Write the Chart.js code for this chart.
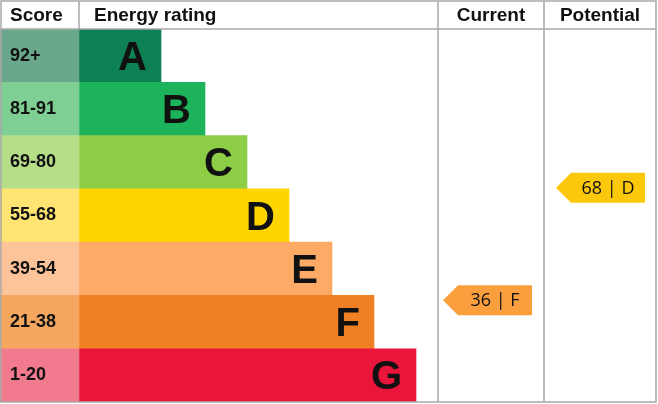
<!DOCTYPE html>
<html>
<head>
<meta charset="utf-8">
<script src="https://cdn.jsdelivr.net/npm/chart.js@4"></script>
<style>
  html, body { margin: 0; padding: 0; background: #fff; }
  #wrap { width: 658px; height: 404px; }
</style>
</head>
<body>
<div id="wrap"><canvas id="epc"></canvas></div>
<script>
// bands, top to bottom
const bands = ["A", "B", "C", "D", "E", "F", "G"];
const scoreRanges = ["92+", "81-91", "69-80", "55-68", "39-54", "21-38", "1-20"];
const bandMins = [92, 81, 69, 55, 39, 21, 1];
const bandMaxes = [100, 91, 80, 68, 54, 38, 20];
const barLengths = [82, 126, 168, 210, 253, 295, 337];   // rating bar width past score column
const scoreColWidth = [79, 79, 79, 79, 79, 79, 79];
const barColors = ["#0d8154", "#1db35b", "#8dce46", "#ffd500", "#fcaa65", "#ef8023", "#e9153b"];
const scoreColors = ["#6aa88b", "#7fcf95", "#b6de88", "#ffe473", "#fdc49a", "#f5a760", "#f27a8e"];
const arrowColors = ["#0d8154", "#1db35b", "#8dce46", "#fcc80c", "#fcaa65", "#fb9e3e", "#e9153b"];
const currentScore = 36;
const potentialScore = 68;

function bandIndex(score) {
  return bandMins.findIndex(m => score >= m);
}

const grid = "#a9a9a9";

const epcPlugin = {
  id: "epc",
  afterDatasetsDraw(chart) {
    const ctx = chart.ctx;
    const y = chart.scales.y;
    const x = chart.scales.x;
    const top = chart.chartArea.top;
    const bottom = chart.chartArea.bottom;
    const rowH = (bottom - top) / bands.length;
    const cur = [438, 544];
    const pot = [544, 656];

    ctx.save();
    ctx.textBaseline = "middle";
    bands.forEach((b, i) => {
      const yc = y.getPixelForValue(i);
      ctx.fillStyle = "#111";
      ctx.font = "bold 40px 'Liberation Sans', Arial, sans-serif";
      ctx.textAlign = "right";
      ctx.fillText(b, x.getPixelForValue(scoreColWidth[i] + barLengths[i]) - 14, yc + 3);
      ctx.font = "bold 18px 'Liberation Sans', Arial, sans-serif";
      ctx.textAlign = "left";
      ctx.fillText(scoreRanges[i], 10, yc);
    });

    ctx.strokeStyle = grid;
    ctx.lineWidth = 1.5;
    ctx.beginPath();
    ctx.rect(1, 1, 655, bottom - 1);
    ctx.moveTo(1, top); ctx.lineTo(656, top);
    ctx.moveTo(79, 1); ctx.lineTo(79, top);
    ctx.moveTo(cur[0], 1); ctx.lineTo(cur[0], bottom);
    ctx.moveTo(cur[1], 1); ctx.lineTo(cur[1], bottom);
    ctx.stroke();

    ctx.fillStyle = "#111";
    ctx.font = "bold 19px 'Liberation Sans', Arial, sans-serif";
    ctx.textAlign = "left";
    ctx.fillText("Score", 10, 16);
    ctx.fillText("Energy rating", 94, 16);
    ctx.textAlign = "center";
    ctx.fillText("Current", (cur[0] + cur[1]) / 2, 16);
    ctx.fillText("Potential", (pot[0] + pot[1]) / 2, 16);

    function arrow(score, x0, x1) {
      const i = bandIndex(score);
      const bandTop = y.getPixelForValue(i) - rowH / 2;
      const yc = bandTop + (bandMaxes[i] - score) / (bandMaxes[i] - bandMins[i] + 1) * rowH - 1;
      const h = 30;
      ctx.fillStyle = arrowColors[i];
      ctx.beginPath();
      ctx.moveTo(x0, yc);
      ctx.lineTo(x0 + 15, yc - h / 2);
      ctx.lineTo(x1, yc - h / 2);
      ctx.lineTo(x1, yc + h / 2);
      ctx.lineTo(x0 + 15, yc + h / 2);
      ctx.closePath();
      ctx.fill();
      ctx.fillStyle = "#111";
      ctx.font = "18px 'Open Sans', 'DejaVu Sans', sans-serif";
      ctx.textAlign = "center";
      ctx.fillText(score + " | " + bands[i], (x0 + 15 + x1) / 2, yc + 1);
    }
    arrow(currentScore, 443, 532);
    arrow(potentialScore, 556, 645);
    ctx.restore();
  }
};

new Chart(document.getElementById("epc"), {
  type: "bar",
  data: {
    labels: bands,
    datasets: [
      { data: scoreColWidth, backgroundColor: scoreColors, barPercentage: 1, categoryPercentage: 1 },
      { data: barLengths, backgroundColor: barColors, barPercentage: 1, categoryPercentage: 1 }
    ]
  },
  options: {
    indexAxis: "y",
    responsive: true,
    maintainAspectRatio: false,
    animation: false,
    layout: { padding: { top: 29, bottom: 2, left: 0, right: 0 } },
    scales: {
      x: { stacked: true, min: 0, max: 658, display: false },
      y: { stacked: true, display: false }
    },
    plugins: { legend: { display: false }, tooltip: { enabled: false } }
  },
  plugins: [epcPlugin]
});
</script>
</body>
</html>
